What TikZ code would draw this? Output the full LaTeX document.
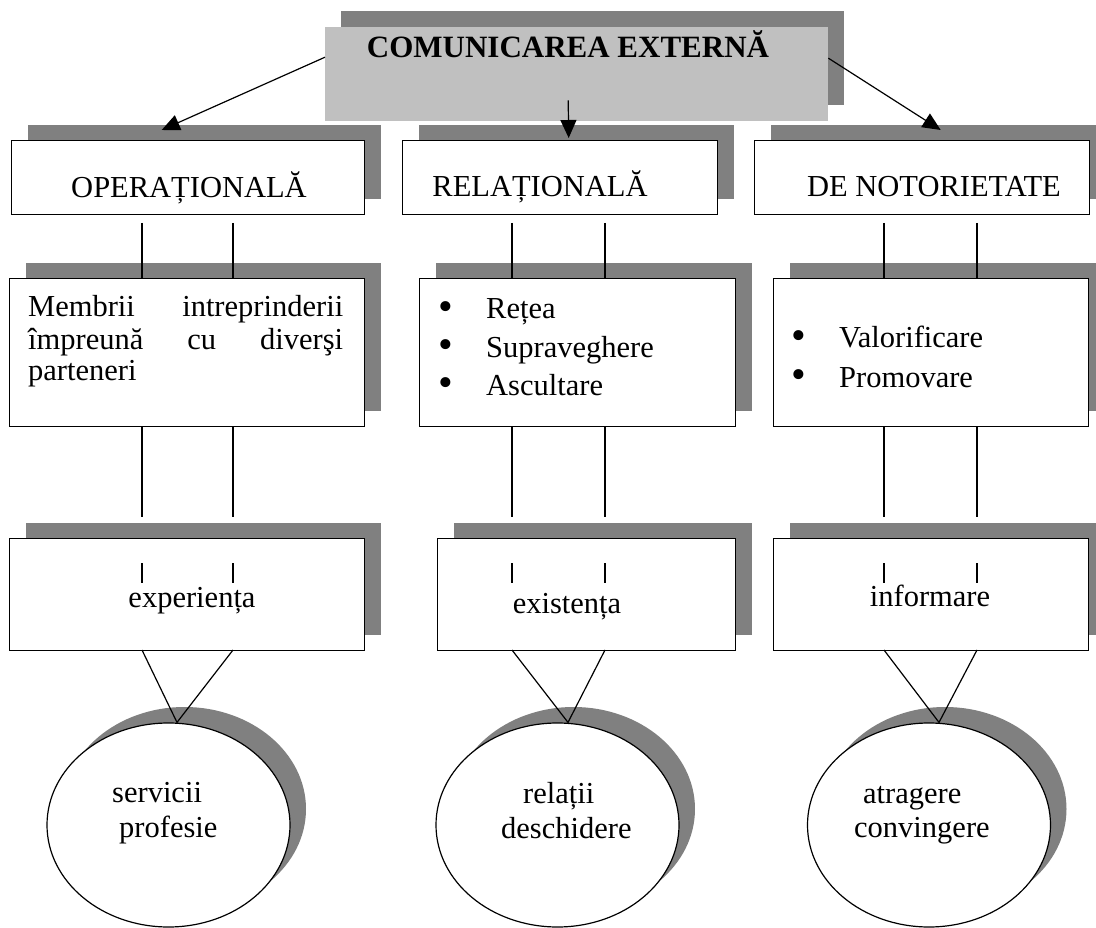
\documentclass[tikz,border=0pt]{standalone}
\usepackage{fontspec}
\setmainfont{Liberation Serif}
\usetikzlibrary{shadows,arrows.meta,shapes.geometric}
\definecolor{shadegray}{HTML}{808080}
\definecolor{headgray}{HTML}{C0C0C0}
\newcommand\listdot{\makebox[46pt][l]{\hspace*{-1.5pt}\raisebox{-1.5pt}{\fontsize{42pt}{42pt}\selectfont •}}}
\tikzset{
  shade/.style={drop shadow={shadow xshift=16pt,shadow yshift=16pt,fill=shadegray,opacity=1}},
  box/.style={shade,draw=black,line width=1.4pt,fill=white,anchor=north west,inner sep=0pt},
  headbox/.style={shade,fill=headgray,anchor=north west,inner sep=0pt},
  oval/.style={shade,ellipse,draw=black,line width=1.2pt,fill=white,inner sep=0pt,
    minimum width=243pt,minimum height=204pt},
  txt/.style={font=\fontsize{30.5pt}{33pt}\selectfont,inner sep=0pt,anchor=base west},
  ctxt/.style={txt,anchor=base},
  link/.style={draw=black,line width=1.2pt},
  arr/.style={link,-{Triangle[length=18pt,width=16pt]}}
}
\begin{document}
\begin{tikzpicture}[x=1pt,y=-1pt]
\clip (0,0) rectangle (1096,928);
\fill[white] (0,0) rectangle (1096,928);

% heading
\node[headbox,minimum width=503pt,minimum height=94pt] (top) at (325,27) {};
\node[ctxt,font=\fontsize{31pt}{34pt}\selectfont\bfseries] (title) at (568,58) {COMUNICAREA EXTERNĂ};

% first row: the three kinds of communication
\node[box,minimum width=353pt,minimum height=74pt] (op)  at (11,140)  {};
\node[box,minimum width=315pt,minimum height=74pt] (rel) at (402,140) {};
\node[box,minimum width=335pt,minimum height=74pt] (not) at (754,140) {};
\node[ctxt] (opT)  at (189,198) {OPERAȚIONALĂ};
\node[ctxt] (relT) at (540,197) {RELAȚIONALĂ};
\node[ctxt] (notT) at (934,197) {DE NOTORIETATE};

% second row: contents
\node[box,minimum width=355pt,minimum height=148pt] (mem) at (9,278)   {};
\node[box,minimum width=316pt,minimum height=148pt] (ret) at (419,278) {};
\node[box,minimum width=315pt,minimum height=148pt] (val) at (773,278) {};
\node[txt] (m1) at (28,317) {\hbox to 315pt{Membrii\hfill intreprinderii}};
\node[txt] (m2) at (28,349) {\hbox to 315pt{împreună\hfill cu\hfill diverşi}};
\node[txt] (m3) at (28,381) {parteneri};
\node[txt] (r1) at (440,319) {\listdot Rețea};
\node[txt] (r2) at (440,357) {\listdot Supraveghere};
\node[txt] (r3) at (440,395) {\listdot Ascultare};
\node[txt] (v1) at (793,348) {\listdot Valorificare};
\node[txt] (v2) at (793,387) {\listdot Promovare};

% third row
\node[box,minimum width=355pt,minimum height=112pt] (exp) at (9,538)   {};
\node[box,minimum width=298pt,minimum height=112pt] (exi) at (437,538) {};
\node[box,minimum width=315pt,minimum height=112pt] (inf) at (773,538) {};
\node[ctxt] (expT) at (192,607) {experiența};
\node[ctxt] (exiT) at (567,613) {existența};
\node[ctxt] (infT) at (930,606) {informare};

% results
\node[oval] (c1) at (168.5,825) {};
\node[oval] (c2) at (557.5,825) {};
\node[oval] (c3) at (929,825)   {};
\node[txt] (c1a) at (112,802) {servicii};
\node[txt] (c1b) at (119,837) {profesie};
\node[txt] (c2a) at (523,803) {relații};
\node[txt] (c2b) at (501,838) {deschidere};
\node[txt] (c3a) at (863,803) {atragere};
\node[txt] (c3b) at (854,837) {convingere};

% arrows from the heading
\draw[arr] ([yshift=17pt]top.west) -- ([xshift=-26.5pt,yshift=10pt]op.north);
\draw[arr] ([xshift=-8.5pt,yshift=21pt]top.south) -- ([xshift=8.5pt,yshift=2pt]rel.north);
\draw[arr] ([yshift=16pt]top.east) -- ([xshift=18.5pt,yshift=10pt]not.north);

% vertical links, two per column
\foreach \xa/\up/\mid/\low in {142/op/mem/exp,233/op/mem/exp,512/rel/ret/exi,605/rel/ret/exi,884/not/val/inf,977/not/val/inf}{
  \coordinate (s\xa) at (\xa,223);
  \draw[link] (s\xa) -- (s\xa |- \mid.north);
  \draw[link] (s\xa |- \mid.south) -- ++(0,90);
  \draw[link] (s\xa |- \low.north) ++(0,25) -- ++(0,20);
}

% funnels into the results
\draw[link] (142,650) -- ([xshift=8.5pt]c1.north) -- (233,650);
\draw[link] (512,650) -- ([xshift=10.5pt]c2.north) -- (605,650);
\draw[link] (884,650) -- ([xshift=10pt]c3.north) -- (977,650);
\end{tikzpicture}
\end{document}
